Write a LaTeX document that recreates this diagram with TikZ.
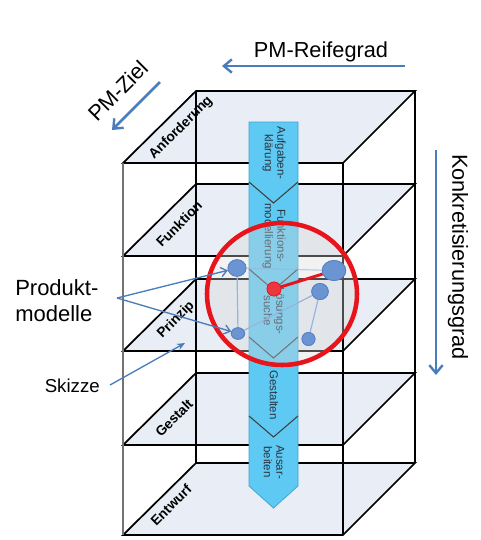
\documentclass[tikz,border=0pt]{standalone}
\usepackage{fontspec}
\setmainfont{Liberation Sans}
\usetikzlibrary{arrows.meta,shapes.geometric}
\definecolor{planefill}{HTML}{E8EDF6}
\definecolor{bandfill}{HTML}{5EC9F2}
\definecolor{bandedge}{HTML}{3FA6D2}
\definecolor{arrowblue}{HTML}{4A7EBB}
\definecolor{dotblue}{HTML}{6B95D2}
\definecolor{dotedge}{HTML}{5680C2}
\definecolor{linkblue}{HTML}{9AB3DD}
\definecolor{circred}{HTML}{E8141B}
\definecolor{bandtext}{HTML}{2A3440}
\tikzset{
  plane/.style={fill=planefill, draw=black, line width=1.3pt, line join=miter},
  edgeline/.style={draw=black, line width=1.3pt},
  frontedge/.style={draw=black!55, line width=1.3pt},
  chev/.style={draw=black!75, line width=0.8pt},
  planelabel/.style={font=\bfseries\fontsize{10.3}{11}\selectfont, rotate=45, inner sep=0pt},
  bandlabel/.style={font=\fontsize{8.6}{9.4}\selectfont, text=bandtext, rotate=-90, align=center, inner sep=0pt},
  bigarrow/.style={draw=arrowblue, line width=2pt, -{Straight Barb[length=6pt,width=10pt,line width=1.8pt]}},
  thinarrow/.style={draw=arrowblue, line width=1pt, -{Straight Barb[length=4.5pt,width=7pt,line width=1pt]}},
  skarrow/.style={draw=arrowblue, line width=1pt, -{Stealth[length=6pt,width=5pt]}},
  dot/.style={ellipse, fill=dotblue, draw=dotedge, line width=0.6pt, inner sep=0pt},
  link/.style={draw=linkblue, line width=0.9pt},
  bigtext/.style={font=\fontsize{16.3}{19}\selectfont, inner sep=0pt}
}
\begin{document}
\begin{tikzpicture}[x=0.75pt,y=-0.75pt]
\useasboundingbox (0,0) rectangle (480,540);
% planes
\foreach \F in {163,256,351,445,535}{
  \path[plane] (123,\F) -- (196,\F-72) -- (415,\F-72) -- (343,\F) -- cycle;
}
% vertical edges
\draw[frontedge] (123,163) -- (123,535);
\draw[edgeline] (196,91) -- (196,463);
\draw[edgeline] (343,163) -- (343,535);
\draw[edgeline] (415,91) -- (415,463);
% plane labels
\node[planelabel] (lAnf) at (181,128) {Anforderung};
\node[planelabel] (lFun) at (179,224) {Funktion};
\node[planelabel] (lPri) at (176,320) {Prinzip};
\node[planelabel] (lGes) at (174,418) {Gestalt};
\node[planelabel] (lEnt) at (171,505) {Entwurf};
% band
\path[fill=bandfill, draw=bandedge, line width=0.6pt] (249,122) -- (298,122) -- (298,486) -- (273.5,508) -- (249,486) -- cycle;
\draw[chev] (249,182) -- (273.5,203) -- (298,182);
\draw[chev] (249,269) -- (273.5,290) -- (298,269);
\draw[chev] (249,337) -- (273.5,358) -- (298,337);
\draw[chev] (249,416) -- (273.5,437) -- (298,416);
\node[bandlabel] (s1) at (274,153) {Aufgaben-\\klärung};
\node[bandlabel] (s2) at (274,236) {Funktions-\\modellierung};
\node[bandlabel] (s3) at (274,311) {Lösungs-\\suche};
\node[bandlabel] (s4) at (274,395) {Gestalten};
\node[bandlabel] (s5) at (274,462) {Ausar-\\beiten};
% circle overlay
\fill[black!15, opacity=0.35] (282,294) ellipse [x radius=75, y radius=71];
% dots
\node[dot, minimum width=13.5pt, minimum height=12.4pt] (d1) at (237,268) {};
\node[dot, minimum width=17.6pt, minimum height=15pt] (d2) at (334,270.5) {};
\node[dot, minimum width=12.4pt, minimum height=12pt] (d3) at (320,291.5) {};
\node[dot, minimum width=10pt, minimum height=8.6pt] (d4) at (238,333.5) {};
\node[dot, minimum width=9.75pt, minimum height=9.75pt] (d5) at (308.5,339) {};
\node[circle, fill=circred!85, draw=circred, line width=0.5pt, minimum size=10.5pt, inner sep=0pt] (rd) at (274,289) {};
\draw[link, draw opacity=0.6] (d1) -- (d2);
\draw[link] (d1) -- (d4);
\draw[link] (d4) -- (d3);
\draw[link] (d3) -- (d5);
\draw[draw=circred, line width=2.2pt] (rd) -- (d2);
% redraw dots over links
\node[dot, minimum width=13.5pt, minimum height=12.4pt] at (d1) {};
\node[dot, minimum width=17.6pt, minimum height=15pt] at (d2) {};
\node[dot, minimum width=12.4pt, minimum height=12pt] at (d3) {};
\node[dot, minimum width=10pt, minimum height=8.6pt] at (d4) {};
\node[dot, minimum width=9.75pt, minimum height=9.75pt] at (d5) {};
\node[circle, fill=circred!85, draw=circred, line width=0.5pt, minimum size=10.5pt, inner sep=0pt] at (rd) {};
% red circle
\draw[draw=circred, line width=3.4pt] (282,294) ellipse [x radius=75, y radius=71];
% texts
\node[bigtext] (reife) at (321,52) {PM-Reifegrad};
\node[bigtext, rotate=45] (ziel) at (118,91) {PM-Ziel};
\node[bigtext, rotate=-90] (konk) at (458,257) {Konkretisierungsgrad};
\node[font=\fontsize{16.5}{20}\selectfont, align=left, inner sep=0pt, anchor=north west] (prod) at (15,279) {Produkt-\\modelle};
\node[font=\fontsize{14}{16}\selectfont, inner sep=0pt, anchor=east] (sk) at (100,386) {Skizze};
% arrows
\coordinate (rgA) at (405,66);
\coordinate (rgB) at (222,66);
\draw[bigarrow] (rgA) -- (rgB);
\coordinate (zA) at (160,82);
\coordinate (zB) at (112,130);
\draw[bigarrow] (zA) -- (zB);
\coordinate (kA) at (436,150);
\coordinate (kB) at (436,375);
\draw[bigarrow] (kA) -- (kB);
\coordinate (pm) at (117,298);
\draw[thinarrow] (pm) -- (d1);
\draw[thinarrow] (pm) -- (d4);
\coordinate (skA) at (110,385);
\coordinate (skB) at (185,343);
\draw[skarrow] (skA) -- (skB);
\end{tikzpicture}
\end{document}
